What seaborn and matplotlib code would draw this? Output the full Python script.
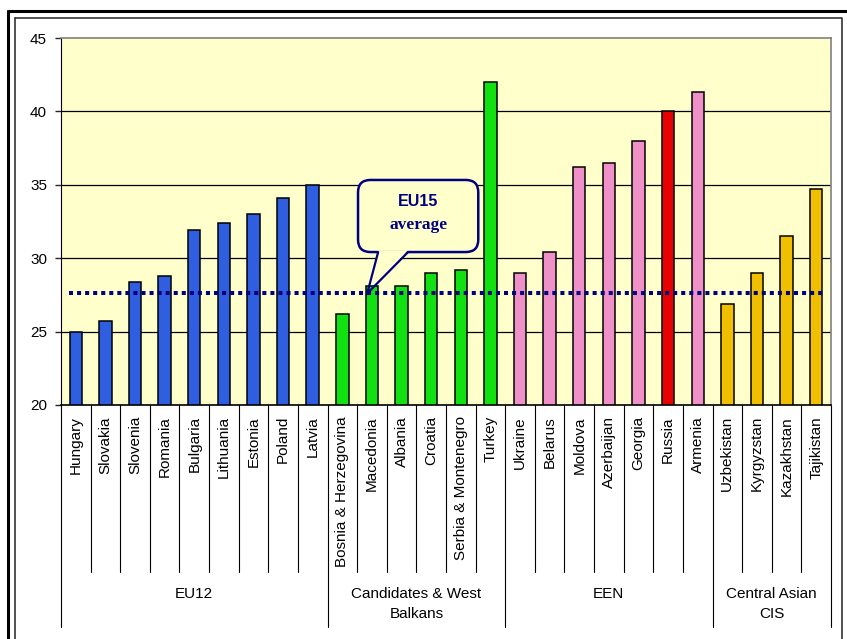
import matplotlib.pyplot as plt
import seaborn as sns
import pandas as pd
from matplotlib.patches import FancyBboxPatch, Polygon
from matplotlib.lines import Line2D
from matplotlib.transforms import blended_transform_factory

# data
countries = ['Hungary', 'Slovakia', 'Slovenia', 'Romania', 'Bulgaria', 'Lithuania',
             'Estonia', 'Poland', 'Latvia',
             'Bosnia & Herzegovina', 'Macedonia', 'Albania', 'Croatia',
             'Serbia & Montenegro', 'Turkey',
             'Ukraine', 'Belarus', 'Moldova', 'Azerbaijan', 'Georgia', 'Russia', 'Armenia',
             'Uzbekistan', 'Kyrgyzstan', 'Kazakhstan', 'Tajikistan']
values = [25.0, 25.7, 28.4, 28.8, 31.9, 32.4, 33.0, 34.1, 35.0,
          26.2, 28.1, 28.1, 29.0, 29.2, 42.0,
          29.0, 30.4, 36.2, 36.5, 38.0, 40.0, 41.3,
          26.9, 29.0, 31.5, 34.7]
group_names = ['EU12', 'Candidates & West\nBalkans', 'EEN', 'Central Asian\nCIS']
group_sizes = [9, 6, 7, 4]
eu15_avg = 27.6
highlight = 'Russia'

bg = '#FFFFCC'
navy = '#000080'
group_colors = ['#2F5FE0', '#11E011', '#F090C8', '#F0C000']
highlight_color = '#E60000'

groups = []
for name, n in zip(group_names, group_sizes):
    groups += [name] * n
df = pd.DataFrame({'country': countries, 'value': values, 'group': groups})
color_of = dict(zip(group_names, group_colors))
palette = {c: (highlight_color if c == highlight else color_of[g])
           for c, g in zip(countries, groups)}

sns.set_style('white')
plt.rcParams['font.family'] = ['Liberation Sans', 'DejaVu Sans']

fig = plt.figure(figsize=(8.47, 6.39), dpi=100)
ax = fig.add_axes([0.0720, 0.3662, 0.9091, 0.5743])
ax.set_facecolor(bg)

sns.barplot(data=df, x='country', y='value', hue='country', palette=palette,
            saturation=1, width=0.42, edgecolor='black', linewidth=1.1, legend=False,
            ax=ax, zorder=2)

ax.set_ylim(20, 45)
ax.set_xlim(-0.5, len(countries) - 0.5)
yt = list(range(20, 46, 5))
ax.set_yticks(yt)
for v in yt[1:-1]:
    ax.axhline(v, color='black', linewidth=0.9, zorder=0.5)

for s in ['top', 'right']:
    ax.spines[s].set_color('#808080')
    ax.spines[s].set_linewidth(1.2)
ax.spines['left'].set_color('black')
ax.spines['bottom'].set_color('black')
ax.spines['bottom'].set_linewidth(1.2)

ax.set_xlabel('')
ax.set_ylabel('')
ax.tick_params(axis='y', direction='out', length=4, width=1, labelsize=11, pad=6,
               left=True, labelcolor='black')
ax.tick_params(axis='x', length=0, labelsize=11, pad=8, labelcolor='black')
plt.setp(ax.get_xticklabels(), rotation=90)

# category separators below the axis
trans = blended_transform_factory(ax.transData, ax.transAxes)
bounds = [0]
for n in group_sizes:
    bounds.append(bounds[-1] + n)
for i in range(len(countries) + 1):
    depth = -0.605 if i in bounds else -0.455
    ax.add_line(Line2D([i - 0.5, i - 0.5], [0, depth], color='black', linewidth=0.8,
                       transform=trans, clip_on=False))

for name, a, b in zip(group_names, bounds[:-1], bounds[1:]):
    ax.text((a + b - 1) / 2, -0.497, name, transform=trans, ha='center', va='top',
            fontsize=11, linespacing=1.5, color='black')

# EU15 average line
ax.axhline(eu15_avg, xmin=0.01, xmax=0.99, color=navy, linewidth=2.9,
           linestyle=(0, (1, 1)), dash_capstyle='butt', zorder=3)

# callout
mac = countries.index('Macedonia')
x0, x1 = mac - 0.47, mac + 3.59
y0, y1 = 30.42, 35.33
p0 = ax.transData.transform((0, 20))
p1 = ax.transData.transform((1, 21))
aspect = (p1[0] - p0[0]) / (p1[1] - p0[1])
box = FancyBboxPatch((x0, y0), x1 - x0, y1 - y0,
                     boxstyle='round,pad=0,rounding_size=0.42',
                     mutation_aspect=aspect, facecolor=bg, edgecolor=navy,
                     linewidth=1.8, zorder=1.4)
ax.add_patch(box)
tip = (mac - 0.16, eu15_avg)
bl, br = mac + 0.21, mac + 1.22
ax.add_patch(Polygon([(bl, y0 + 0.12), tip, (br, y0 + 0.12)], closed=True,
                     facecolor=bg, edgecolor='none', zorder=1.5))
ax.add_line(Line2D([bl, tip[0], br], [y0, tip[1], y0], color=navy, linewidth=1.6,
                   zorder=3.1))
xc = (x0 + x1) / 2
ax.text(xc, 33.83, 'EU15', ha='center', va='center', fontsize=11.5, fontweight='bold',
        color=navy, zorder=4)
ax.text(xc, 32.26, 'average', ha='center', va='center', fontsize=12.5,
        fontweight='bold', color=navy, family=['Liberation Serif'], zorder=4)

# frames around the chart
W, H = 847, 639
def fl(xs, ys, **kw):
    fig.add_artist(Line2D([x / W for x in xs], [1 - y / H for y in ys],
                          transform=fig.transFigure, **kw))
fl([8, 847], [11, 11], color='black', linewidth=2.2)
fl([8, 8], [11, 639], color='black', linewidth=2.2)
fl([15, 842, 842], [18, 18, 639], color='#333333', linewidth=1.2)
fl([15, 15], [18, 639], color='#333333', linewidth=1.2)

fig.savefig('out.png', dpi=100, facecolor='white')
